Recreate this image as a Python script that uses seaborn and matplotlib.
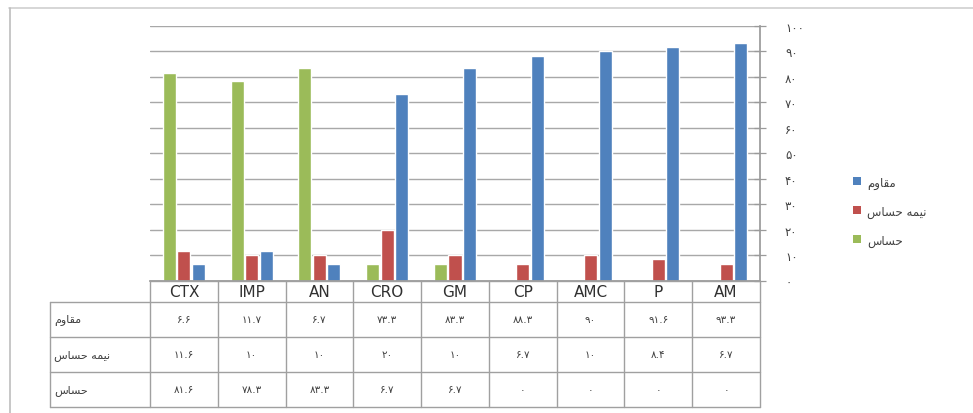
import numpy as np
import pandas as pd
import matplotlib
matplotlib.use("Agg")
import matplotlib.pyplot as plt
import seaborn as sns
from matplotlib.lines import Line2D
from matplotlib.patches import Patch

# ---------------- data ----------------
categories = ["CTX", "IMP", "AN", "CRO", "GM", "CP", "AMC", "P", "AM"]
resistant = [6.6, 11.7, 6.7, 73.3, 83.3, 88.3, 90, 91.6, 93.3]
intermediate = [11.6, 10, 10, 20, 10, 6.7, 10, 8.4, 6.7]
sensitive = [81.6, 78.3, 83.3, 6.7, 6.7, 0, 0, 0, 0]

# series names in Persian (pre-shaped presentation forms, visual order)
name_resistant = "\uFEE1\uFEED\uFE8E\uFED8\uFEE3"                          # مقاوم
name_intermediate = "\uFEB1\uFE8E\uFEB4\uFEA3 \uFEEA\uFEE4\uFEF4\uFEE7"    # نیمه حساس
name_sensitive = "\uFEB1\uFE8E\uFEB4\uFEA3"                                # حساس

y_ticks = [0, 10, 20, 30, 40, 50, 60, 70, 80, 90, 100]
y_tick_labels = ["۰", "۱۰", "۲۰", "۳۰", "۴۰", "۵۰", "۶۰", "۷۰", "۸۰", "۹۰", "۱۰۰"]

colors = {name_sensitive: "#9BBB59", name_intermediate: "#C0504D", name_resistant: "#4F81BD"}

# ---------------- frame ----------------
df = pd.DataFrame({
    "cat": categories * 3,
    "series": [name_sensitive] * 9 + [name_intermediate] * 9 + [name_resistant] * 9,
    "value": sensitive + intermediate + resistant,
})

sns.set_theme(style="white")
plt.rcParams["font.family"] = ["DejaVu Sans"]

W, H = 973, 414
fig = plt.figure(figsize=(W / 100, H / 100), dpi=100)
fig.patch.set_facecolor("white")

def fx(px):
    return px / W

def fy(py):
    return 1 - py / H

ax_left, ax_right, ax_top, ax_bottom = 150, 760, 26.7, 281.7
ax = fig.add_axes([fx(ax_left), fy(ax_bottom), fx(ax_right - ax_left), (ax_bottom - ax_top) / H])

sns.barplot(data=df, x="cat", y="value", hue="series", order=categories,
            hue_order=[name_sensitive, name_intermediate, name_resistant],
            palette=colors, width=0.64, gap=0.1, ax=ax, legend=False,
            saturation=1, errorbar=None)

ax.set_xlim(-0.5, len(categories) - 0.5)
ax.set_ylim(0, 100)
ax.set_xlabel("")
ax.set_ylabel("")
ax.set_xticks([])
ax.yaxis.tick_right()
ax.set_yticks(y_ticks)
ax.set_yticklabels(y_tick_labels, fontsize=8.5, color="#404040")
ax.tick_params(axis="y", which="both", right=True, left=False, direction="inout",
               length=8, width=0.9, color="#9a9a9a", pad=14)
for lab in ax.get_yticklabels():
    lab.set_horizontalalignment("left")
ax.yaxis.grid(True, color="#a8a8a8", linewidth=1)
ax.set_axisbelow(True)
for s in ["left", "top"]:
    ax.spines[s].set_visible(False)
ax.spines["right"].set_color("#9a9a9a")
ax.spines["bottom"].set_color("#9a9a9a")

# ---------------- data table ----------------
line_color = "#a0a0a0"
row_names = [name_resistant, name_intermediate, name_sensitive]
row_values = [resistant, intermediate, sensitive]
rows_y = [302.7, 338, 373, 408]
label_left = 50

to_digits = str.maketrans("0123456789", "۰۱۲۳۴۵۶۷۸۹")

def fmt(v):
    s = str(int(v)) if float(v).is_integer() else f"{v:.1f}"
    return s.translate(to_digits)

def data_to_px(x):
    disp = ax.transData.transform((x, 0))[0]
    return disp * W / fig.bbox.width

bounds = [data_to_px(i - 0.5) for i in range(len(categories) + 1)]

# horizontal lines
fig.add_artist(Line2D([fx(bounds[0]), fx(bounds[-1])], [fy(ax_bottom)] * 2,
                      color=line_color, lw=1, transform=fig.transFigure))
for yy in rows_y:
    fig.add_artist(Line2D([fx(label_left), fx(bounds[-1])], [fy(yy)] * 2,
                          color=line_color, lw=1, transform=fig.transFigure))
# vertical lines
for bx in bounds:
    fig.add_artist(Line2D([fx(bx)] * 2, [fy(ax_bottom), fy(rows_y[-1])],
                          color=line_color, lw=1, transform=fig.transFigure))
fig.add_artist(Line2D([fx(label_left)] * 2, [fy(rows_y[0]), fy(rows_y[-1])],
                      color=line_color, lw=1, transform=fig.transFigure))

# header
for i, c in enumerate(categories):
    cx = (bounds[i] + bounds[i + 1]) / 2
    fig.text(fx(cx), fy((ax_bottom + rows_y[0]) / 2), c, ha="center", va="center",
             fontsize=11, color="#303030")
# body
for r, (nm, vals) in enumerate(zip(row_names, row_values)):
    cy = (rows_y[r] + rows_y[r + 1]) / 2
    fig.text(fx(label_left + 4), fy(cy), nm, ha="left", va="center",
             fontsize=8, color="#404040")
    for i, v in enumerate(vals):
        cx = (bounds[i] + bounds[i + 1]) / 2
        fig.text(fx(cx), fy(cy), fmt(v), ha="center", va="center",
                 fontsize=7.5, color="#404040")

# ---------------- legend ----------------
handles = [Patch(facecolor=colors[n], edgecolor="none") for n in row_names]
fig.legend(handles, row_names, loc="center left",
           bbox_to_anchor=(fx(842), fy(212)), frameon=False, fontsize=8.5,
           handlelength=0.7, handleheight=0.7, handletextpad=0.5,
           labelspacing=1.35, labelcolor="#404040")

# outer chart border (top and left edges visible)
fig.add_artist(Line2D([fx(9), 1], [fy(8.5)] * 2, color="#cfcfcf", lw=1.2,
                      transform=fig.transFigure))
fig.add_artist(Line2D([fx(9.5)] * 2, [fy(8.5), 0], color="#bdbdbd", lw=1.2,
                      transform=fig.transFigure))

fig.savefig("out.png", dpi=100, facecolor="white")
